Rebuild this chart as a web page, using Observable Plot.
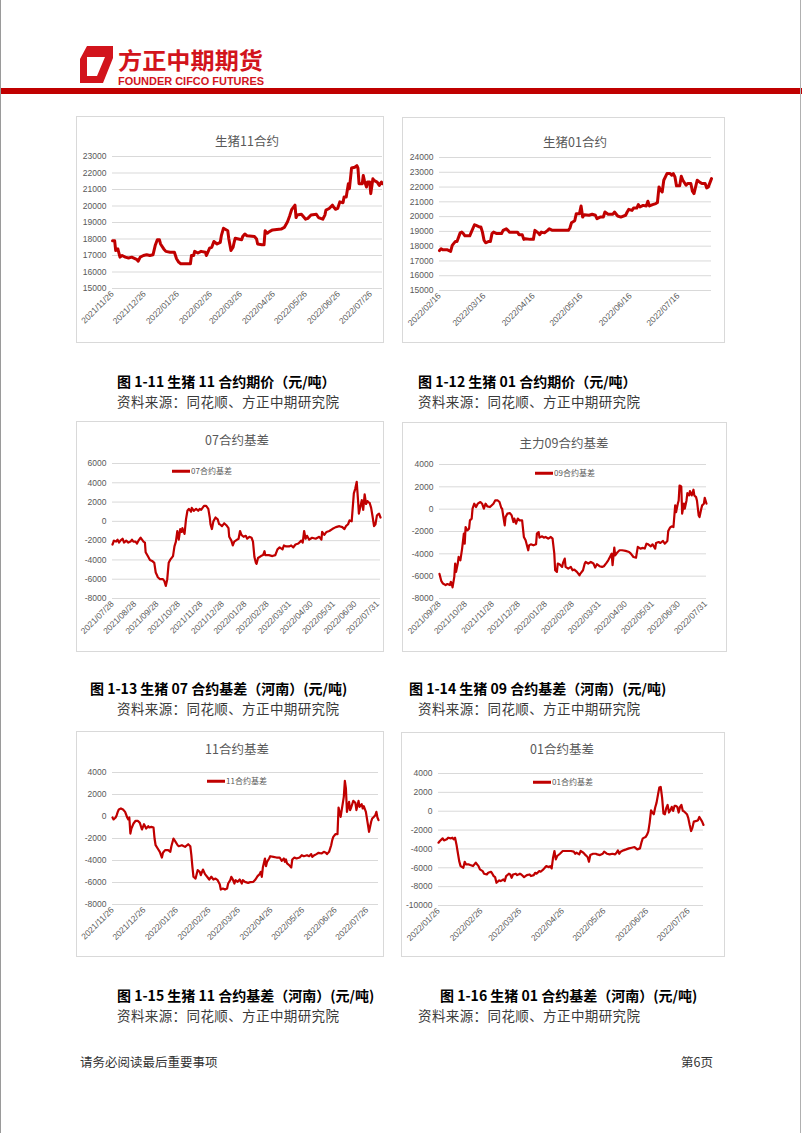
<!DOCTYPE html>
<html><head><meta charset="utf-8">
<script src="https://cdn.jsdelivr.net/npm/d3@7"></script>
<script src="https://cdn.jsdelivr.net/npm/@observablehq/plot@0.6"></script>
<style>
body{margin:0;background:#fff}
#page{position:relative;width:802px;height:1133px;overflow:hidden;background:#fff;font-family:"Noto Sans CJK SC",sans-serif}
.box{position:absolute;border:1px solid #d9d9d9;box-sizing:border-box}
.title{position:absolute;transform:translate(-50%,-50%);font-size:12.5px;color:#595959;white-space:nowrap;line-height:1}
.cap{position:absolute;font-size:14px;font-weight:700;color:#000;white-space:nowrap;line-height:14px}
.src{position:absolute;font-size:13.5px;letter-spacing:0.4px;color:#3a3a3a;white-space:nowrap;line-height:14px}
.leg{position:absolute;font-size:8px;color:#595959;white-space:nowrap;line-height:8px;transform:translateY(-50%)}
.legline{position:absolute;height:2.5px;background:#C00000;transform:translateY(-50%)}
.foot{position:absolute;font-size:12.5px;color:#333;white-space:nowrap;line-height:13px}
</style></head>
<body><div id="page"></div>
<script>
// ---------- data ----------
const c11PriceStart = "2021/11/26";
const c11PriceTicks = ["2021/11/26","2021/12/26","2022/01/26","2022/02/26","2022/03/26","2022/04/26","2022/05/26","2022/06/26","2022/07/26"];
const c11PriceDays = [0,2,3,5,7,9,12,15,18,23,24,26,29,32,35,38,40,42,44,45,48,50,54,58,60,62,64,73,74,76,77,80,83,87,88,91,93,95,98,101,102,104,108,109,111,113,114,115,121,122,124,126,133,135,136,140,142,143,145,147,150,158,161,164,166,168,171,172,173,177,181,183,186,191,193,197,199,200,203,206,207,209,211,213,216,217,219,221,222,224,227,229,230,231,234,235,236,238,239,241,242,244,245,248,250,252,253];
const c11PriceVals = [17900,17900,17300,17400,16900,17000,16900,16850,16900,16750,16650,16900,17000,17050,17000,17050,17600,17950,17950,17700,17400,17250,17200,17200,16800,16600,16500,16500,17000,17000,17250,17150,17250,17200,17000,17450,17500,17850,17700,17800,18200,18650,18500,18000,17300,17500,17800,18050,17950,18150,18300,18200,18150,18000,17700,17650,17650,18500,18350,18450,18550,18600,18700,19050,19400,19800,20050,19300,19450,19500,19200,19250,19450,19500,19300,19200,19450,19750,19850,20050,19950,19800,19850,20250,20200,20550,20550,21350,21050,22300,22350,22450,22300,21350,21350,21850,21550,21150,21450,21450,20750,21650,21550,21450,21250,21450,21350];
const c11PriceY = [15000,16000,17000,18000,19000,20000,21000,22000,23000];

const c01PriceStart = "2022/02/16";
const c01PriceTicks = ["2022/02/16","2022/03/16","2022/04/16","2022/05/16","2022/06/16","2022/07/16"];
const c01PriceDays = [0,1,2,5,6,7,8,10,11,13,14,15,16,19,20,22,23,25,26,27,28,29,31,32,33,34,36,39,40,42,43,44,49,50,52,53,54,57,59,60,62,63,64,66,68,69,71,78,81,82,83,85,86,88,89,90,91,94,96,98,99,101,103,104,106,109,110,112,114,117,118,119,121,122,124,125,126,128,130,131,132,134,136,137,138,139,140,141,143,145,146,147,148,149,151,152,153,155,156,158,159,160,162,164,165,167,168,169,171];
const c01PriceVals = [17700,17820,17750,17750,17700,17650,18050,18320,18320,18900,18950,18850,18700,18700,18950,19450,19400,19300,19300,18950,18400,18230,18320,18320,18850,18950,18850,18850,19070,19180,19070,18950,18950,18780,18780,18460,18500,18460,18460,19070,18900,18780,18950,18900,19070,19180,19070,19070,19070,19230,19590,19720,20200,20200,20720,19970,20130,20090,20160,20090,19860,19970,19970,20310,20160,20160,20310,20040,19970,20090,20310,20490,20420,20580,20580,20810,20650,20760,20720,21040,20720,20810,20880,20950,22010,21780,21670,22460,22910,22910,22800,22910,22690,22080,22080,22730,22460,22120,22240,22240,21720,21560,22460,22300,22240,22240,21940,22010,22570];
const c01PriceY = [15000,16000,17000,18000,19000,20000,21000,22000,23000,24000];

const c07BasisStart = "2021/07/28";
const c07BasisTicks = ["2021/07/28","2021/08/28","2021/09/28","2021/10/28","2021/11/28","2021/12/28","2022/01/28","2022/02/28","2022/03/31","2022/04/30","2022/05/31","2022/06/30","2022/07/31"];
const c07BasisDays = [0,2,5,7,9,11,14,16,19,22,25,27,29,32,34,36,39,41,43,45,46,49,52,55,58,60,63,66,70,72,74,76,78,80,84,86,88,90,92,94,96,97,100,102,104,106,109,110,113,116,119,121,123,127,130,133,135,136,138,140,143,146,148,149,152,155,158,161,162,165,167,169,173,175,177,179,182,185,187,190,193,195,197,199,200,202,206,209,211,212,217,222,226,229,232,236,238,241,245,248,251,254,258,262,264,266,268,270,273,277,282,287,290,291,294,297,301,305,310,315,319,322,324,327,329,332,335,337,339,341,342,344,346,348,350,352,354,355,357,359,361,363,365,367,368,370,372];
const c07BasisVals = [-2400,-2000,-2100,-1900,-2200,-2000,-1800,-2200,-2000,-2200,-2100,-1900,-2100,-2100,-2300,-2000,-1700,-1900,-2100,-2200,-3200,-3600,-4000,-4100,-4300,-5300,-5800,-6000,-6000,-6200,-6700,-6000,-4300,-4000,-3600,-2600,-2100,-1000,-1900,-800,-1100,-700,-1300,200,1100,1300,1000,1400,1100,1300,1100,1300,1200,1600,1600,1300,400,-300,-800,0,400,200,-300,-300,-500,-200,-400,-700,-1600,-2000,-2500,-2100,-1900,-1800,-1000,-1400,-1600,-1500,-1800,-1600,-1700,-2100,-3700,-4300,-4400,-3800,-3600,-3500,-3100,-3500,-3500,-3600,-3500,-2900,-2700,-2900,-2500,-2600,-2600,-2500,-2700,-2400,-2300,-2000,-2200,-1000,-1800,-1500,-1900,-1700,-1800,-1600,-1900,-1100,-1400,-1100,-1000,-800,-600,-500,-600,-800,-500,-300,100,0,2900,3400,4100,2000,800,1500,2200,1200,2800,1800,2100,2000,1900,1400,500,-500,-300,600,700,800,400];
const c07BasisY = [-8000,-6000,-4000,-2000,0,2000,4000,6000];

const c09BasisStart = "2021/09/28";
const c09BasisTicks = ["2021/09/28","2021/10/28","2021/11/28","2021/12/28","2022/01/28","2022/02/28","2022/03/31","2022/04/30","2022/05/31","2022/06/30","2022/07/31"];
const c09BasisDays = [0,2,4,7,9,12,13,14,15,17,18,19,21,22,24,26,28,29,30,32,34,35,37,38,40,42,44,47,49,51,53,55,58,62,64,67,69,71,72,75,76,78,81,83,85,86,88,90,92,95,97,99,102,103,105,108,111,112,114,115,118,120,122,125,128,130,132,133,135,136,138,141,142,144,145,148,151,153,155,158,161,162,165,167,168,171,174,177,179,181,184,187,189,192,194,196,198,199,201,202,205,207,210,214,218,220,223,226,228,231,234,236,238,240,243,245,248,249,252,254,257,259,262,263,265,267,269,271,272,274,275,276,278,279,281,282,284,285,287,288,290,292,293,295,296,298,299,301,302,304,305,307];
const c09BasisVals = [-5800,-6420,-6660,-6800,-6700,-6800,-6500,-6650,-7000,-6060,-4870,-5620,-4870,-4280,-4580,-3530,-2190,-3090,-1600,-1900,-1750,-1000,-850,40,490,190,490,640,490,40,490,250,190,490,780,780,640,130,40,-1450,-700,-400,-350,-560,-1150,-850,-1300,-850,-1000,-1000,-2490,-2790,-3680,-3240,-3150,-3240,-3150,-2190,-2050,-2550,-2430,-2550,-2490,-2640,-2490,-2640,-3980,-5470,-5620,-4870,-4930,-5170,-4810,-4430,-5170,-5320,-5170,-5470,-5410,-5620,-5920,-5770,-5470,-4870,-4730,-4870,-4730,-4870,-5230,-4930,-5110,-5170,-5110,-4810,-4580,-4280,-3980,-5020,-3440,-4130,-3830,-3680,-3680,-3740,-3830,-3980,-4280,-4340,-3380,-3530,-3470,-3530,-3090,-3150,-3330,-3150,-3530,-3030,-2940,-3030,-2850,-3090,-2850,-1960,-1660,-1540,-1600,340,-270,490,780,2120,2030,-400,490,40,780,1440,1230,1620,1230,1740,1230,1080,780,-560,-700,40,340,490,1020,490];
const c09BasisY = [-8000,-6000,-4000,-2000,0,2000,4000];

const c11BasisStart = "2021/11/26";
const c11BasisTicks = ["2021/11/26","2021/12/26","2022/01/26","2022/02/26","2022/03/26","2022/04/26","2022/05/26","2022/06/26","2022/07/26"];
const c11BasisDays = [0,1,3,4,5,6,8,10,12,14,15,16,17,18,20,22,24,26,28,29,30,32,34,35,37,39,40,41,43,45,47,48,50,53,55,56,58,60,62,63,66,69,72,74,75,76,77,79,81,83,84,86,88,90,92,94,96,98,100,102,103,105,107,109,110,112,113,114,116,117,119,121,123,124,126,129,131,134,136,138,140,141,142,143,145,146,147,149,150,153,156,159,161,163,164,165,166,168,170,171,173,175,178,180,182,185,187,189,190,192,194,196,199,201,203,204,206,208,209,210,212,214,215,217,218,220,221,222,223,225,226,227,229,231,232,234,235,237,238,239,241,242,243,244,246,247,248,250,251,252,253];
const c11BasisVals = [-90,-270,-90,120,420,640,730,640,420,-90,-270,-90,-1550,-1090,-640,-390,-390,-580,-1180,-940,-700,-1090,-880,-1000,-940,-1000,-2000,-2610,-2910,-3210,-3730,-3300,-3060,-3060,-3210,-2700,-2000,-2300,-2610,-2700,-2610,-2760,-2520,-2700,-3520,-4580,-5480,-5640,-4880,-5030,-5330,-4820,-5240,-5480,-5730,-5480,-5730,-5640,-5790,-6150,-6640,-6550,-6640,-6550,-6090,-5790,-5480,-5640,-6090,-5790,-5940,-5730,-6090,-5790,-5940,-6030,-5970,-5940,-5730,-5420,-5240,-5030,-5480,-4640,-3820,-4520,-4120,-3820,-3610,-3670,-3730,-3730,-4030,-3820,-4120,-3910,-4270,-4420,-4640,-3910,-3730,-3820,-3730,-3520,-3610,-3520,-3610,-3420,-3670,-3520,-3420,-3300,-3360,-3210,-3300,-3420,-3210,-2610,-2150,-1850,-1610,-1610,820,-30,580,1790,3240,2550,420,1330,580,820,1420,1240,580,1420,880,1120,730,940,420,-180,-790,-1390,-480,-180,-90,120,420,-90,-330];
const c11BasisY = [-8000,-6000,-4000,-2000,0,2000,4000];

const c01BasisStart = "2022/01/26";
const c01BasisTicks = ["2022/01/26","2022/02/26","2022/03/26","2022/04/26","2022/05/26","2022/06/26","2022/07/26"];
const c01BasisDays = [0,1,3,4,6,7,9,10,11,12,13,14,15,16,18,19,20,22,23,25,26,27,29,30,32,33,35,36,38,39,40,41,42,44,45,47,48,49,51,52,53,54,56,57,59,60,62,64,66,67,69,70,71,73,74,76,77,78,80,81,82,83,84,85,86,88,90,92,94,96,98,99,100,102,103,105,106,108,109,110,112,114,115,117,119,120,122,124,126,128,129,130,131,132,134,136,138,140,142,144,146,147,148,150,151,152,153,154,155,156,157,158,159,160,161,162,163,164,165,166,167,168,169,170,171,172,173,174,175,176,177,178,180,181,182,183,184,185,187,188,189,190,191,192];
const c01BasisVals = [-3340,-3160,-2880,-3090,-2980,-2810,-2880,-2810,-2980,-2810,-3520,-4400,-5290,-5820,-6000,-5360,-5640,-5640,-5710,-5820,-5640,-5460,-5820,-6170,-6350,-6630,-6710,-6530,-6420,-6630,-6880,-6990,-7590,-7340,-7410,-7240,-7410,-6880,-6630,-6710,-7060,-6710,-6630,-6780,-6630,-6710,-6990,-6780,-6710,-6880,-6780,-6530,-6630,-6350,-6420,-6170,-6000,-5820,-5930,-5820,-6070,-4930,-4220,-5110,-4750,-4510,-4220,-4220,-4220,-4220,-4290,-4510,-4400,-4580,-4220,-4400,-4580,-4860,-5360,-4650,-4510,-4510,-4580,-4650,-4510,-4290,-4510,-4580,-4510,-4580,-4400,-4150,-4510,-4290,-4150,-4050,-3940,-3870,-3800,-4050,-3940,-3340,-2880,-2740,-2520,-2170,-1210,100,-140,-320,390,910,1730,2510,2580,1450,-250,-320,320,670,-140,100,460,40,560,560,460,-140,460,670,40,-30,-320,-740,-1460,-2100,-1740,-1100,-1030,-960,-610,-850,-1100,-1460];
const c01BasisY = [-10000,-8000,-6000,-4000,-2000,0,2000,4000];

const titles = ["生猪11合约","生猪01合约","07合约基差","主力09合约基差","11合约基差","01合约基差"];
const legends = [null,null,"07合约基差","09合约基差","11合约基差","01合约基差"];
const captions = ["图 1-11  生猪 11 合约期价（元/吨）","图 1-12  生猪 01 合约期价（元/吨）","图 1-13 生猪 07 合约基差（河南）(元/吨)","图 1-14  生猪 09 合约基差（河南）(元/吨)","图 1-15  生猪 11 合约基差（河南）(元/吨)","图 1-16  生猪 01 合约基差（河南）(元/吨)"];
const sourceText = "资料来源：同花顺、方正中期研究院";

// ---------- layout ----------
const page = document.getElementById("page");
const parse = s => new Date(s.replace(/\//g, "-") + "T00:00:00Z");

// header
page.insertAdjacentHTML("beforeend", `
<svg width="802" height="100" style="position:absolute;left:0;top:0">
  <path fill="#D2141C" fill-rule="evenodd" d="M87 46 H113 V58 L103 83 H80 V59 Z M87 57 H105 L97 76 H87 Z"/>
  <text x="118" y="69" font-family="Noto Sans CJK SC" font-weight="700" font-size="23" fill="#D2141C" textLength="145" lengthAdjust="spacingAndGlyphs">方正中期期货</text>
  <text x="118" y="84.5" font-family="Liberation Sans, Arial" font-weight="700" font-size="10" fill="#D2141C" textLength="146" lengthAdjust="spacingAndGlyphs">FOUNDER CIFCO FUTURES</text>
  <rect x="0" y="88" width="802" height="6" fill="#C00000"/>
</svg>
<div style="position:absolute;left:0;top:0;width:1px;height:1133px;background:#9a9a9a"></div>
<div style="position:absolute;left:800px;top:0;width:1px;height:1133px;background:#b0b0b0"></div>
`);

const charts = [
  {start: c11PriceStart, ticks: c11PriceTicks, days: c11PriceDays, vals: c11PriceVals, y: c11PriceY,
   box: [76,116,308,227], m: [36,2,40,55], sw: 3, title: [247,141]},
  {start: c01PriceStart, ticks: c01PriceTicks, days: c01PriceDays, vals: c01PriceVals, y: c01PriceY,
   box: [402,117,323,226], m: [37,14,40,53], sw: 3, title: [575,142]},
  {start: c07BasisStart, ticks: c07BasisTicks, days: c07BasisDays, vals: c07BasisVals, y: c07BasisY,
   box: [76,421,308,231], m: [36,4,42,54], sw: 2.2, title: [237,440], leg: [172,190,471]},
  {start: c09BasisStart, ticks: c09BasisTicks, days: c09BasisDays, vals: c09BasisVals, y: c09BasisY,
   box: [402,422,325,230], m: [37,21,42,54], sw: 2.2, title: [564,443], leg: [535,553,473]},
  {start: c11BasisStart, ticks: c11BasisTicks, days: c11BasisDays, vals: c11BasisVals, y: c11BasisY,
   box: [76,731,308,226], m: [36,6,41,53], sw: 2.2, title: [237,749], leg: [207,225,781]},
  {start: c01BasisStart, ticks: c01BasisTicks, days: c01BasisDays, vals: c01BasisVals, y: c01BasisY,
   box: [401,732,324,225], m: [37,22,41,52], sw: 2.2, title: [562,749], leg: [533,551,782]}
];

charts.forEach((c, i) => {
  const start = parse(c.start);
  const data = c.days.map((d, k) => ({date: d3.utcDay.offset(start, d), value: c.vals[k]}));
  const end = d3.utcDay.offset(start, c.days[c.days.length - 1]);
  const [bx, by, bw, bh] = c.box;
  const svg = Plot.plot({
    width: bw, height: bh,
    marginLeft: c.m[0], marginRight: c.m[1], marginTop: c.m[2], marginBottom: c.m[3],
    style: {fontFamily: '"Liberation Sans", Arial, sans-serif', fontSize: "8.5px", color: "#595959", background: "transparent", overflow: "visible"},
    x: {type: "utc", domain: [start, end], ticks: c.ticks.map(parse), tickFormat: d3.utcFormat("%Y/%m/%d"),
        tickRotate: -45, tickSize: 0, tickPadding: 4, label: null},
    y: {domain: [c.y[0], c.y[c.y.length - 1]], ticks: c.y, tickFormat: d => String(d), tickSize: 0, tickPadding: 6, label: null},
    marks: [
      Plot.gridY(c.y, {stroke: "#d9d9d9", strokeOpacity: 1, strokeWidth: 1}),
      Plot.line(data, {x: "date", y: "value", stroke: "#C00000", strokeWidth: c.sw, strokeLinejoin: "round"})
    ]
  });
  svg.style.position = "absolute";
  svg.style.left = bx + "px";
  svg.style.top = by + "px";
  page.appendChild(svg);

  const border = document.createElement("div");
  border.className = "box";
  Object.assign(border.style, {left: bx + "px", top: by + "px", width: bw + "px", height: bh + "px"});
  page.appendChild(border);

  const t = document.createElement("div");
  t.className = "title";
  t.textContent = titles[i];
  t.style.left = c.title[0] + "px";
  t.style.top = c.title[1] + "px";
  page.appendChild(t);

  if (legends[i]) {
    const ln = document.createElement("div");
    ln.className = "legline";
    Object.assign(ln.style, {left: c.leg[0] + "px", top: c.leg[2] + "px", width: (c.leg[1] - c.leg[0]) + "px"});
    page.appendChild(ln);
    const lt = document.createElement("div");
    lt.className = "leg";
    lt.textContent = legends[i];
    Object.assign(lt.style, {left: (c.leg[1] + 1) + "px", top: c.leg[2] + "px"});
    page.appendChild(lt);
  }
});

// captions
const capPos = [[117,374],[418,374],[90,681],[409,681],[117,988],[440,988]];
const srcPos = [[117,394],[418,394],[117,701],[418,701],[117,1008],[418,1008]];
captions.forEach((txt, i) => {
  const d = document.createElement("div");
  d.className = "cap";
  d.textContent = txt;
  d.style.left = capPos[i][0] + "px";
  d.style.top = capPos[i][1] + "px";
  page.appendChild(d);
  const s = document.createElement("div");
  s.className = "src";
  s.textContent = sourceText;
  s.style.left = srcPos[i][0] + "px";
  s.style.top = srcPos[i][1] + "px";
  page.appendChild(s);
});

page.insertAdjacentHTML("beforeend", `
<div class="foot" style="left:80px;top:1055px">请务必阅读最后重要事项</div>
<div class="foot" style="left:681px;top:1055px">第6页</div>`);
</script>
</body></html>
